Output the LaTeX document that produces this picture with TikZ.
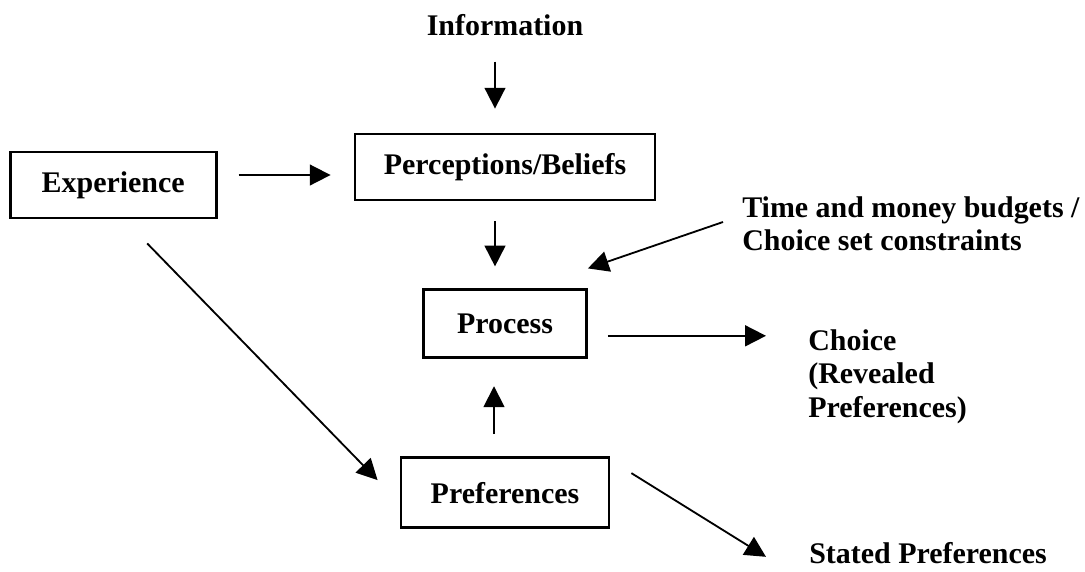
\documentclass[tikz,border=0pt]{standalone}
\usepackage{fontspec}
\setmainfont{Liberation Serif}
\usetikzlibrary{arrows.meta, positioning}

\begin{document}
\begin{tikzpicture}[every node/.style={font=\bfseries\fontsize{21.3pt}{24pt}\selectfont, inner sep=0pt},
    box/.style={draw, line width=2pt},
    arr/.style={line width=1.3pt, -{Triangle[length=0.52cm, width=0.52cm]}}]
    \useasboundingbox (0,0) rectangle (27.125,-14.275);
    \node[box, minimum width=7.5cm, minimum height=1.65cm] (perc) at (12.625,-4.175) {Perceptions/Beliefs};
    \node[above=2.425cm of perc] (info) {Information};
    \node[box, minimum width=5.15cm, minimum height=1.65cm, left=3.4cm of perc, yshift=-0.45cm] (exp) {Experience};
    \node[box, minimum width=4.075cm, minimum height=1.7cm, below=2.175cm of perc] (proc) {Process};
    \node[box, minimum width=5.2cm, minimum height=1.75cm, below=2.425cm of proc] (pref) {Preferences};
    \node[anchor=north west, align=left] (time) at (18.55,-4.9) {Time and money budgets /\\Choice set constraints};
    \node[anchor=north west, align=left] (choice) at (20.2,-8.225) {Choice\\(Revealed\\Preferences)};
    \node[anchor=base west] (stated) at (20.225,-14.09) {Stated Preferences};
    \draw[arr, shorten <=0.65cm, shorten >=0.6cm] ([xshift=-0.25cm]info.south) -- ([xshift=-0.25cm]perc.north);
    \draw[arr, shorten <=0.5cm, shorten >=0.55cm] ([xshift=-0.25cm]perc.south) -- ([xshift=-0.25cm]proc.north);
    \draw[arr, shorten <=0.55cm, shorten >=0.675cm] ([xshift=-0.275cm]pref.north) -- ([xshift=-0.275cm]proc.south);
    \draw[arr, shorten <=0.525cm, shorten >=0.575cm] ([yshift=0.25cm]exp.east) -- ([yshift=0.25cm]exp.east -| perc.west);
    \draw[arr] ([xshift=0.85cm, yshift=-0.6cm]exp.south) -- ([xshift=-0.55cm, yshift=0.3125cm]pref.west);
    \draw[arr] ([xshift=-0.475cm, yshift=-0.65cm]time.north west) -- ([yshift=0.5cm]proc.north east);
    \draw[arr, shorten <=0.5cm, shorten >=1.05cm] ([yshift=-0.3cm]proc.east) -- ([yshift=-0.3cm]proc.east -| choice.west);
    \draw[arr] ([xshift=0.525cm, yshift=0.4875cm]pref.east) -- ([xshift=-1.075cm, yshift=0.17cm]stated.base west);
\end{tikzpicture}
\end{document}
